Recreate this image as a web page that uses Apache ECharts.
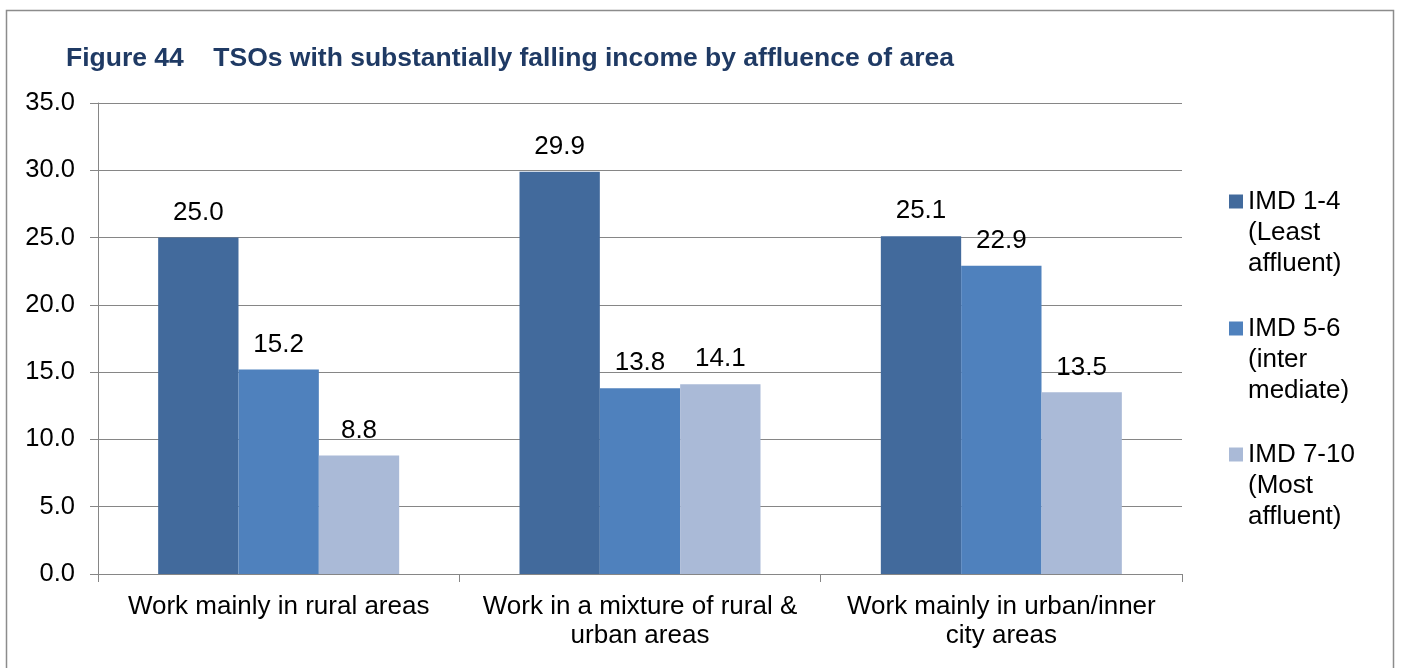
<!DOCTYPE html>
<html><head><meta charset="utf-8">
<script src="https://cdn.jsdelivr.net/npm/echarts@6/dist/echarts.min.js"></script>
<style>html,body{margin:0;padding:0;background:#fff}#c{width:1402px;height:668px}</style>
</head><body><div id="c"></div>
<script>
const categories = ["Work mainly in rural areas", "Work in a mixture of rural &\nurban areas", "Work mainly in urban/inner\ncity areas"];
const seriesNames = ["IMD 1-4 (Least affluent)", "IMD 5-6 (inter mediate)", "IMD 7-10 (Most affluent)"];
const legendLabels = [" \n \nIMD 1-4\n(Least\naffluent)", " \n \nIMD 5-6\n(inter\nmediate)", " \n \nIMD 7-10\n(Most\naffluent)"];
const imd14 = [25.0, 29.9, 25.1];
const imd56 = [15.2, 13.8, 22.9];
const imd710 = [8.8, 14.1, 13.5];
const colors = ["#426A9C", "#4F81BD", "#AABAD7"];
const values = [imd14, imd56, imd710];
const FONT = "Liberation Sans, Arial, sans-serif";

const chart = echarts.init(document.getElementById('c'));
const legendTops = [124, 251, 377];
chart.setOption({
  animation: false,
  textStyle: {fontFamily: FONT},
  title: {
    text: "Figure 44    TSOs with substantially falling income by affluence of area",
    left: 61, top: 40,
    textStyle: {fontFamily: FONT, fontSize: 26.5, fontWeight: 'bold', color: '#1F3A64'}
  },
  graphic: [{type: 'rect', shape: {x: 6.5, y: 10.5, width: 1387, height: 700}, style: {fill: 'none', stroke: '#8C8C8C', lineWidth: 1.5}, silent: true}],
  legend: seriesNames.map((n, i) => ({
    data: [n], left: 1229, top: legendTops[i], orient: 'vertical', padding: 0,
    itemWidth: 14, itemHeight: 14, itemGap: 0, icon: 'rect',
    formatter: () => legendLabels[i],
    textStyle: {fontFamily: FONT, fontSize: 26, color: '#000', lineHeight: 31}
  })),
  grid: {left: 98, right: 220, top: 103, bottom: 94, containLabel: false},
  xAxis: {
    type: 'category', data: categories,
    axisLine: {lineStyle: {color: '#868686', width: 1}},
    axisTick: {show: true, length: 8, interval: 0, lineStyle: {color: '#868686'}},
    axisLabel: {interval: 0, fontFamily: FONT, fontSize: 26, color: '#000', lineHeight: 29, margin: 18}
  },
  yAxis: {
    type: 'value', min: 0, max: 35, interval: 5,
    axisLine: {show: true, lineStyle: {color: '#868686'}},
    axisTick: {show: true, length: 8, lineStyle: {color: '#868686'}},
    splitLine: {lineStyle: {color: '#868686', width: 1}},
    axisLabel: {fontFamily: FONT, fontSize: 25.5, color: '#000', margin: 23, formatter: v => v.toFixed(1)}
  },
  series: seriesNames.map((n, i) => ({
    name: n, type: 'bar', data: values[i],
    barGap: '0%', barCategoryGap: '33.3%',
    itemStyle: {color: colors[i]},
    label: {show: true, position: 'top', distance: 12, fontFamily: FONT, fontSize: 26, color: '#000', formatter: p => p.value.toFixed(1)}
  }))
});
</script></body></html>
